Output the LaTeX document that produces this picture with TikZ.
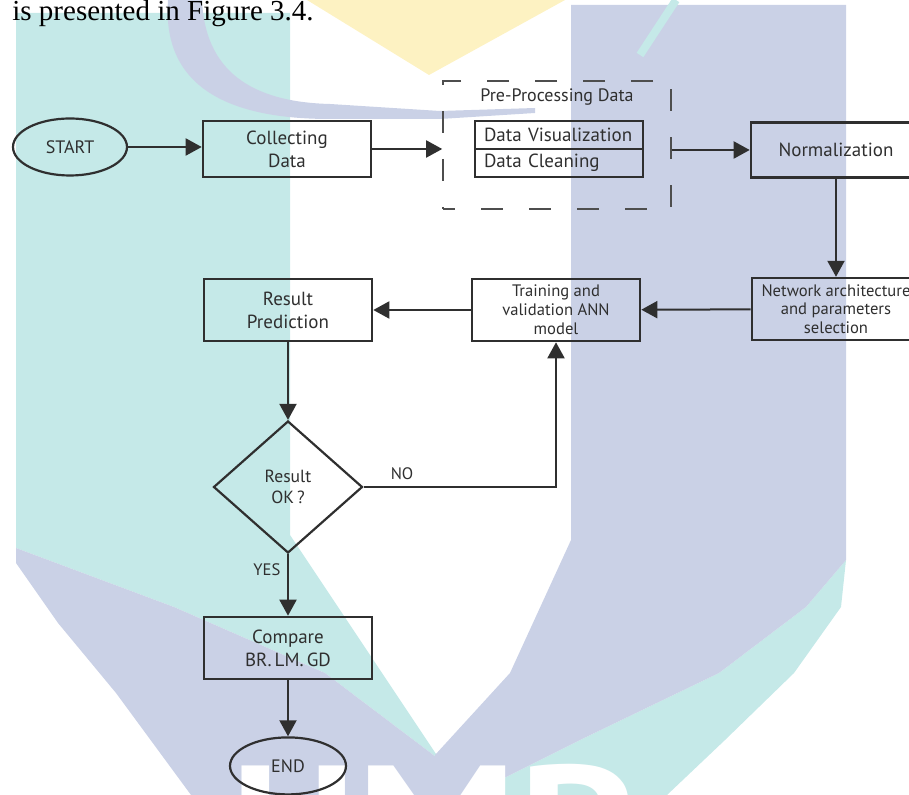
\documentclass[tikz,border=0pt]{standalone}
\usepackage{fontspec}
\setmainfont{Liberation Serif}
\newfontfamily\flowfont{PT Sans}
\usepackage{tikz}
\usetikzlibrary{positioning}
\usetikzlibrary{shapes.geometric}
\usetikzlibrary{arrows.meta}

\definecolor{wmteal}{HTML}{C5E9E8}
\definecolor{wmlav}{HTML}{CAD1E6}
\definecolor{wmyellow}{HTML}{FDF2C2}
\definecolor{ink}{HTML}{2F2F2F}

\begin{document}
\begin{tikzpicture}[x=0.5pt, y=-0.5pt,
    box/.style={draw=ink, line width=1.3pt, rectangle, align=center, inner sep=1pt, text=ink,
        minimum width=84pt, minimum height=31pt, font=\flowfont\fontsize{9.5}{11.5}\selectfont},
    smallbox/.style={box, font=\flowfont\fontsize{8.3}{9.4}\selectfont},
    oval/.style={draw=ink, line width=1.1pt, ellipse, inner sep=0pt, text=ink,
        minimum width=57pt, minimum height=28.5pt, font=\flowfont\fontsize{9}{10}\selectfont},
    subbox/.style={draw=ink, line width=1.2pt, rectangle, outer sep=0pt, inner xsep=4.5pt, inner ysep=0pt,
        text width=75pt, align=left, minimum height=14pt, text=ink, font=\flowfont\fontsize{9.5}{11}\selectfont},
    dashbox/.style={draw=ink!85, line width=0.8pt, rectangle, dash pattern=on 11pt off 13pt, dash phase=5pt,
        minimum width=114pt, minimum height=64pt},
    decision/.style={draw=ink, line width=1.1pt, diamond, inner sep=0pt, align=center, text=ink,
        minimum width=74.5pt, minimum height=66pt, font=\flowfont\fontsize{8.8}{10.5}\selectfont},
    lbl/.style={text=ink, font=\flowfont\fontsize{8.3}{10}\selectfont},
    flow/.style={draw=ink, line width=1pt, -{Triangle[length=8pt,width=8.5pt]}}]

    \useasboundingbox (0,0) rectangle (909,795);
    \clip (0,0) rectangle (909,795);

    % watermark behind the chart
    \fill[wmteal] (16,13) -- (290,13) -- (290,535) -- (440,760) -- (325,673) -- (174,607) -- (16,548) -- cycle;
    \fill[wmlav] (16,548) -- (174,607) -- (325,673) -- (440,760) -- (445,795) -- (191,795) -- (116,693) -- (58,623) -- (16,563) -- cycle;
    \fill[wmteal] (846,560) -- (841,607) -- (794,673) -- (725,740) -- (667,795) -- (470,795) -- (580,740) -- (719,673) -- (806,607) -- cycle;
    \fill[wmlav] (571,5) -- (846,5) -- (846,560) -- (806,607) -- (719,673) -- (580,740) -- (470,795) -- (440,795) -- (435,755) -- (510,673) -- (571,540) -- cycle;
    \fill[wmyellow] (307,0) -- (565,0) -- (429,75) -- cycle;
    \fill[wmlav] (168,0) .. controls (162,85) and (225,119) .. (330,119) -- (440,119) -- (535,113)
        -- (535,108) -- (440,111) -- (330,104) .. controls (250,102) and (205,70) .. (202,0) -- cycle;
    \draw[wmteal, line width=4pt] (640,55) -- (676,0);
    \node[text=white, inner sep=0pt, anchor=north, xscale=1.2,
        font=\flowfont\bfseries\fontsize{84}{84}\selectfont] (wmark) at (432,764) {UMP};

    \node[anchor=base west, inner sep=0pt, font=\fontsize{14.5}{16}\selectfont] (intro) at (12,21) {is presented in Figure 3.4.};

    % top row
    \node[oval] (start) at (70,147) {START};
    \node[box, minimum height=28pt] (coll) at (287,149) {Collecting\\Data};
    \node[dashbox] (pre) at (557,145) {};
    \node[lbl, font=\flowfont\fontsize{9}{10}\selectfont] (prelbl) at (557,97) {Pre-Processing Data};
    \node[subbox] (vis) at (559,135) {Data Visualization};
    \node[subbox, below=0pt of vis] (clean) {Data Cleaning};
    \node[box, minimum width=85pt, minimum height=27.5pt] (norm) at (836,150) {Normalization};

    % middle row
    \node[smallbox, below=49pt of norm] (netw) {Network architecture\\and parameters\\selection};
    \node[smallbox] (train) at (556,310) {Training and\\validation ANN\\model};
    \node[box] (result) at (288,310) {Result\\Prediction};

    % bottom column
    \node[decision] (dia) at (288,487) {Result\\OK\,?};
    \node[box] (cmp) at (288,648) {Compare\\BR.\,LM.\,GD};
    \node[oval, minimum width=58pt, below=28pt of cmp] (endn) {END};

    \draw[flow] (start.east) -- (start.east -| coll.west);
    \draw[flow] (coll.east) -- (coll.east -| pre.west);
    \draw[flow] (pre.east |- norm.west) -- (norm.west);
    \draw[flow] (norm) -- (netw);
    \draw[flow] (netw) -- (train);
    \draw[flow] (train) -- (result);
    \draw[flow] (result) -- (dia);
    \draw[flow] (dia.east) -| node[lbl, above, pos=0.1] {NO} (train.south);
    \draw[flow] (dia) -- node[lbl, left, pos=0.25] {YES} (cmp);
    \draw[flow] (cmp) -- (endn);
\end{tikzpicture}
\end{document}
